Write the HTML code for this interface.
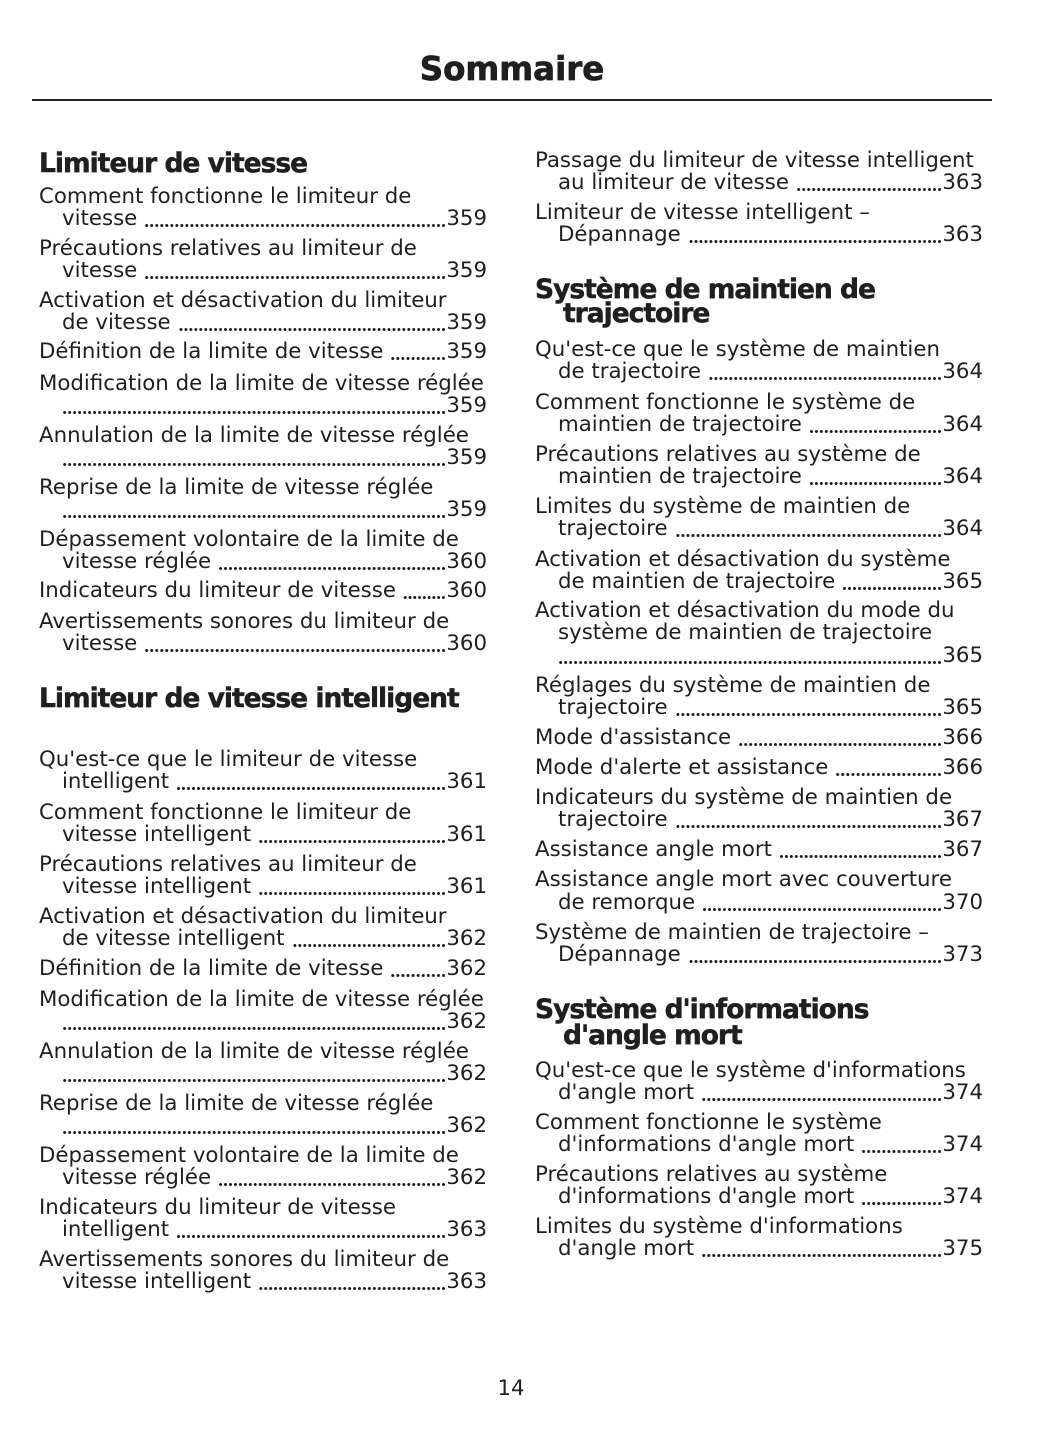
<!DOCTYPE html>
<html><head><meta charset="utf-8">
<style>
html,body{margin:0;padding:0;background:#fff;}
body{width:1055px;height:1448px;position:relative;overflow:hidden;color:#1f1f1f;font-family:"DejaVu Sans","Liberation Sans",sans-serif;}
.t{position:absolute;font-size:21.3px;line-height:22px;white-space:nowrap;}
.r{position:absolute;display:flex;font-size:21.3px;line-height:22px;white-space:nowrap;height:22px;}
.r .x{padding-right:7px;}
.r .d{flex:1;background-image:radial-gradient(circle at center,#1a1a1a 1.25px,rgba(255,255,255,0) 1.75px);background-size:5px 5px;background-repeat:round no-repeat;background-position:right 0 top 15px;}
.h{position:absolute;font-size:26.5px;line-height:30px;font-weight:bold;letter-spacing:-1px;white-space:nowrap;-webkit-text-stroke:0.5px #1f1f1f;}
.a{left:39px;} .b{left:62px;} .c{left:535px;} .e{left:558px;}
.r.a,.r.c{width:448px;} .r.b,.r.e{width:425px;}
</style></head><body>
<div style="position:absolute;left:0;width:1024px;top:49px;text-align:center;font-size:32.5px;line-height:40px;font-weight:bold;-webkit-text-stroke:0.7px #1f1f1f;">Sommaire</div>
<div style="position:absolute;left:32px;top:99px;width:960px;height:1.5px;background:#222;"></div>

<!-- LEFT COLUMN -->
<div class="h a" style="top:149px">Limiteur de vitesse</div>
<div class="t a" style="top:186px">Comment fonctionne le limiteur de</div>
<div class="r b" style="top:208px"><span class="x">vitesse</span><span class="d"></span><span>359</span></div>
<div class="t a" style="top:238px">Précautions relatives au limiteur de</div>
<div class="r b" style="top:260px"><span class="x">vitesse</span><span class="d"></span><span>359</span></div>
<div class="t a" style="top:290px">Activation et désactivation du limiteur</div>
<div class="r b" style="top:312px"><span class="x">de vitesse</span><span class="d"></span><span>359</span></div>
<div class="r a" style="top:341px"><span class="x">Définition de la limite de vitesse</span><span class="d"></span><span>359</span></div>
<div class="t a" style="top:373px">Modification de la limite de vitesse réglée</div>
<div class="r b" style="top:395px"><span class="d"></span><span>359</span></div>
<div class="t a" style="top:425px">Annulation de la limite de vitesse réglée</div>
<div class="r b" style="top:447px"><span class="d"></span><span>359</span></div>
<div class="t a" style="top:477px">Reprise de la limite de vitesse réglée</div>
<div class="r b" style="top:499px"><span class="d"></span><span>359</span></div>
<div class="t a" style="top:529px">Dépassement volontaire de la limite de</div>
<div class="r b" style="top:551px"><span class="x">vitesse réglée</span><span class="d"></span><span>360</span></div>
<div class="r a" style="top:580px"><span class="x">Indicateurs du limiteur de vitesse</span><span class="d"></span><span>360</span></div>
<div class="t a" style="top:611px">Avertissements sonores du limiteur de</div>
<div class="r b" style="top:633px"><span class="x">vitesse</span><span class="d"></span><span>360</span></div>

<div class="h a" style="top:684px">Limiteur de vitesse intelligent</div>
<div class="t a" style="top:749px">Qu'est-ce que le limiteur de vitesse</div>
<div class="r b" style="top:771px"><span class="x">intelligent</span><span class="d"></span><span>361</span></div>
<div class="t a" style="top:802px">Comment fonctionne le limiteur de</div>
<div class="r b" style="top:824px"><span class="x">vitesse intelligent</span><span class="d"></span><span>361</span></div>
<div class="t a" style="top:854px">Précautions relatives au limiteur de</div>
<div class="r b" style="top:876px"><span class="x">vitesse intelligent</span><span class="d"></span><span>361</span></div>
<div class="t a" style="top:906px">Activation et désactivation du limiteur</div>
<div class="r b" style="top:928px"><span class="x">de vitesse intelligent</span><span class="d"></span><span>362</span></div>
<div class="r a" style="top:958px"><span class="x">Définition de la limite de vitesse</span><span class="d"></span><span>362</span></div>
<div class="t a" style="top:989px">Modification de la limite de vitesse réglée</div>
<div class="r b" style="top:1011px"><span class="d"></span><span>362</span></div>
<div class="t a" style="top:1041px">Annulation de la limite de vitesse réglée</div>
<div class="r b" style="top:1063px"><span class="d"></span><span>362</span></div>
<div class="t a" style="top:1093px">Reprise de la limite de vitesse réglée</div>
<div class="r b" style="top:1115px"><span class="d"></span><span>362</span></div>
<div class="t a" style="top:1145px">Dépassement volontaire de la limite de</div>
<div class="r b" style="top:1167px"><span class="x">vitesse réglée</span><span class="d"></span><span>362</span></div>
<div class="t a" style="top:1197px">Indicateurs du limiteur de vitesse</div>
<div class="r b" style="top:1219px"><span class="x">intelligent</span><span class="d"></span><span>363</span></div>
<div class="t a" style="top:1249px">Avertissements sonores du limiteur de</div>
<div class="r b" style="top:1271px"><span class="x">vitesse intelligent</span><span class="d"></span><span>363</span></div>

<!-- RIGHT COLUMN -->
<div class="t c" style="top:150px">Passage du limiteur de vitesse intelligent</div>
<div class="r e" style="top:172px"><span class="x">au limiteur de vitesse</span><span class="d"></span><span>363</span></div>
<div class="t c" style="top:202px">Limiteur de vitesse intelligent –</div>
<div class="r e" style="top:224px"><span class="x">Dépannage</span><span class="d"></span><span>363</span></div>

<div class="h c" style="top:275px">Système de maintien de</div>
<div class="h" style="left:563px;top:299px">trajectoire</div>
<div class="t c" style="top:339px">Qu'est-ce que le système de maintien</div>
<div class="r e" style="top:361px"><span class="x">de trajectoire</span><span class="d"></span><span>364</span></div>
<div class="t c" style="top:392px">Comment fonctionne le système de</div>
<div class="r e" style="top:414px"><span class="x">maintien de trajectoire</span><span class="d"></span><span>364</span></div>
<div class="t c" style="top:444px">Précautions relatives au système de</div>
<div class="r e" style="top:466px"><span class="x">maintien de trajectoire</span><span class="d"></span><span>364</span></div>
<div class="t c" style="top:496px">Limites du système de maintien de</div>
<div class="r e" style="top:518px"><span class="x">trajectoire</span><span class="d"></span><span>364</span></div>
<div class="t c" style="top:549px">Activation et désactivation du système</div>
<div class="r e" style="top:571px"><span class="x">de maintien de trajectoire</span><span class="d"></span><span>365</span></div>
<div class="t c" style="top:600px">Activation et désactivation du mode du</div>
<div class="t e" style="top:622px">système de maintien de trajectoire</div>
<div class="r e" style="top:645px"><span class="d"></span><span>365</span></div>
<div class="t c" style="top:675px">Réglages du système de maintien de</div>
<div class="r e" style="top:697px"><span class="x">trajectoire</span><span class="d"></span><span>365</span></div>
<div class="r c" style="top:727px"><span class="x">Mode d'assistance</span><span class="d"></span><span>366</span></div>
<div class="r c" style="top:757px"><span class="x">Mode d'alerte et assistance</span><span class="d"></span><span>366</span></div>
<div class="t c" style="top:787px">Indicateurs du système de maintien de</div>
<div class="r e" style="top:809px"><span class="x">trajectoire</span><span class="d"></span><span>367</span></div>
<div class="r c" style="top:839px"><span class="x">Assistance angle mort</span><span class="d"></span><span>367</span></div>
<div class="t c" style="top:869px">Assistance angle mort avec couverture</div>
<div class="r e" style="top:892px"><span class="x">de remorque</span><span class="d"></span><span>370</span></div>
<div class="t c" style="top:922px">Système de maintien de trajectoire –</div>
<div class="r e" style="top:944px"><span class="x">Dépannage</span><span class="d"></span><span>373</span></div>

<div class="h c" style="top:995px">Système d'informations</div>
<div class="h" style="left:563px;top:1021px">d'angle mort</div>
<div class="t c" style="top:1060px">Qu'est-ce que le système d'informations</div>
<div class="r e" style="top:1082px"><span class="x">d'angle mort</span><span class="d"></span><span>374</span></div>
<div class="t c" style="top:1112px">Comment fonctionne le système</div>
<div class="r e" style="top:1134px"><span class="x">d'informations d'angle mort</span><span class="d"></span><span>374</span></div>
<div class="t c" style="top:1164px">Précautions relatives au système</div>
<div class="r e" style="top:1186px"><span class="x">d'informations d'angle mort</span><span class="d"></span><span>374</span></div>
<div class="t c" style="top:1216px">Limites du système d'informations</div>
<div class="r e" style="top:1238px"><span class="x">d'angle mort</span><span class="d"></span><span>375</span></div>

<div style="position:absolute;left:0;width:1022px;top:1378px;text-align:center;font-size:21.3px;line-height:22px;">14</div>
</body></html>
